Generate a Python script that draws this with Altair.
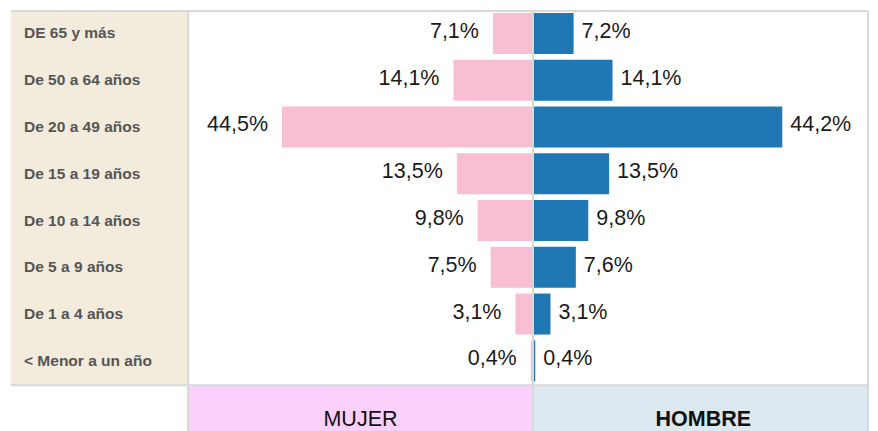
import altair as alt
import pandas as pd

# ---- data ----
categorias = ["DE 65 y más", "De 50 a 64 años", "De 20 a 49 años", "De 15 a 19 años",
              "De 10 a 14 años", "De 5 a 9 años", "De 1 a 4 años", "< Menor a un año"]
mujer = [7.1, 14.1, 44.5, 13.5, 9.8, 7.5, 3.1, 0.4]
hombre = [7.2, 14.1, 44.2, 13.5, 9.8, 7.6, 3.1, 0.4]
encabezados = ["MUJER", "HOMBRE"]

# ---- layout constants ----
HEADER = "encabezado"
XMIN, XMAX = -92.55, 59.4
PANEL_EDGE = -61.17
FONT = "Liberation Sans"
LINE = "#d9d9d9"
BEIGE = "#f3ecdc"

def fmt(v):
    return f"{v:.1f}".replace(".", ",") + "%"

n = len(categorias)
bars = pd.DataFrame({
    "cat": categorias * 2,
    "sexo": ["MUJER"] * n + ["HOMBRE"] * n,
    "start": [-v for v in mujer] + [0] * n,
    "end": [0] * n + hombre,
    "pos": [-v for v in mujer] + hombre,
    "label": [fmt(v) for v in mujer + hombre],
})
panel = pd.DataFrame({"cat": categorias, "start": [XMIN] * n, "end": [PANEL_EDGE] * n})
header = pd.DataFrame({
    "cat": [HEADER, HEADER],
    "fondo": ["fondo_mujer", "fondo_hombre"],
    "sexo": encabezados,
    "start": [PANEL_EDGE, 0],
    "end": [0, XMAX],
    "mid": [PANEL_EDGE / 2, XMAX / 2 + 0.5],
})
vrules = pd.DataFrame({"x": [PANEL_EDGE, 0, XMAX]})
hrules = pd.DataFrame({"cat": [categorias[0], HEADER]})

ydomain = categorias + [HEADER]
xscale = alt.Scale(domain=[XMIN, XMAX], nice=False, zero=False)
yscale = alt.Scale(domain=ydomain, paddingInner=0, paddingOuter=0)

def Y():
    return alt.Y("cat:N", scale=yscale, axis=None, sort=ydomain)

panel_layer = alt.Chart(panel).mark_rect(color=BEIGE, stroke=BEIGE, strokeWidth=1).encode(
    x=alt.X("start:Q", scale=xscale, axis=None),
    x2="end:Q",
    y=Y(),
)

cat_text = alt.Chart(panel).mark_text(
    font=FONT, fontSize=15.5, fontWeight="bold", color="#555555",
    align="left", baseline="middle", dx=13, dy=-1,
).encode(
    x=alt.X("start:Q", scale=xscale, axis=None),
    y=Y(),
    text="cat:N",
)

header_rect = alt.Chart(header).mark_rect().encode(
    x=alt.X("start:Q", scale=xscale, axis=None),
    x2="end:Q",
    y=Y(),
    color=alt.Color("fondo:N", scale=alt.Scale(domain=["fondo_mujer", "fondo_hombre"],
                                               range=["#fbd0fb", "#dce9f0"]), legend=None),
)

header_mujer = alt.Chart(header).transform_filter(alt.datum.sexo == "MUJER").mark_text(
    font=FONT, fontSize=21.5, color="#111111", baseline="middle", dy=11
).encode(
    x=alt.X("mid:Q", scale=xscale, axis=None),
    y=Y(),
    text="sexo:N",
)
header_hombre = alt.Chart(header).transform_filter(alt.datum.sexo == "HOMBRE").mark_text(
    font=FONT, fontSize=21.5, fontWeight="bold", color="#111111", baseline="middle", dy=11
).encode(
    x=alt.X("mid:Q", scale=xscale, axis=None),
    y=Y(),
    text="sexo:N",
)

bar_layer = alt.Chart(bars).mark_bar(size=41, yOffset=-1).encode(
    x=alt.X("start:Q", scale=xscale, axis=None),
    x2="end:Q",
    y=Y(),
    color=alt.Color("sexo:N", scale=alt.Scale(domain=["MUJER", "HOMBRE"],
                                              range=["#f8bed3", "#1f77b4"]), legend=None),
)

text_m = alt.Chart(bars).transform_filter(alt.datum.sexo == "MUJER").mark_text(
    font=FONT, fontSize=21.5, color="#1a1a1a", align="right", baseline="middle", dx=-14, dy=-2.5
).encode(
    x=alt.X("pos:Q", scale=xscale, axis=None),
    y=Y(),
    text="label:N",
)
text_h = alt.Chart(bars).transform_filter(alt.datum.sexo == "HOMBRE").mark_text(
    font=FONT, fontSize=21.5, color="#1a1a1a", align="left", baseline="middle", dx=8, dy=-2.5
).encode(
    x=alt.X("pos:Q", scale=xscale, axis=None),
    y=Y(),
    text="label:N",
)

vrule_layer = alt.Chart(vrules).mark_rule(color=LINE, strokeWidth=2).encode(
    x=alt.X("x:Q", scale=xscale, axis=None),
)
hrule_layer = alt.Chart(hrules).mark_rule(color=LINE, strokeWidth=2).encode(
    y=alt.Y("cat:N", scale=yscale, axis=None, sort=ydomain, bandPosition=0),
)

chart = alt.layer(
    panel_layer, header_rect, header_mujer, header_hombre, bar_layer,
    vrule_layer, hrule_layer, cat_text, text_m, text_h,
).resolve_scale(color="independent").properties(
    width=857, height=421,
    autosize=alt.AutoSizeParams(type="none"),
    padding={"left": 3, "top": 3, "right": 2, "bottom": 0},
    background="white",
).configure_view(stroke=None)

chart.save("out.html", embed_options={"renderer": "svg", "actions": False})
